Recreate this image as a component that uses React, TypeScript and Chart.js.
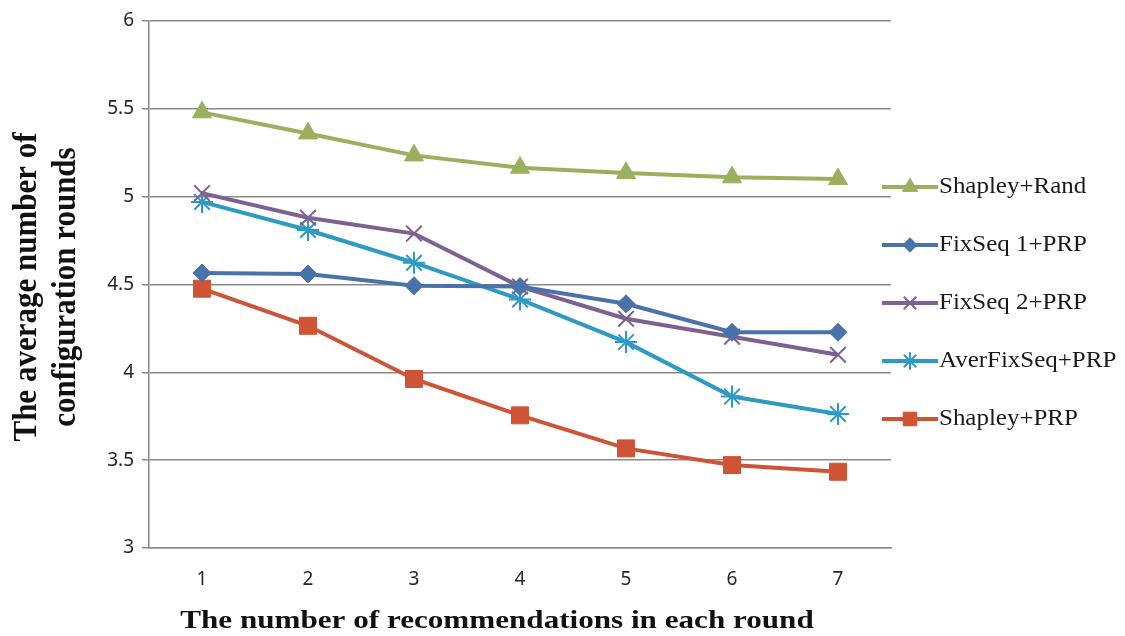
import React, { useEffect, useRef } from 'react';
import { Chart, registerables } from 'chart.js';
import * as helpers from 'chart.js/helpers';

Chart.register(...registerables);

const categories = ['1', '2', '3', '4', '5', '6', '7'];
const shapleyRand = [5.48, 5.36, 5.235, 5.165, 5.135, 5.11, 5.10];
const fixSeq1 = [4.565, 4.56, 4.493, 4.488, 4.39, 4.228, 4.228];
const fixSeq2 = [5.02, 4.88, 4.79, 4.488, 4.305, 4.203, 4.10];
const averFixSeq = [4.97, 4.81, 4.624, 4.415, 4.172, 3.862, 3.763];
const shapleyPRP = [4.476, 4.265, 3.962, 3.755, 3.567, 3.472, 3.434];
const seriesNames = ['Shapley+Rand', 'FixSeq 1+PRP', 'FixSeq 2+PRP', 'AverFixSeq+PRP', 'Shapley+PRP'];
const yMin = 3;
const yMax = 6;
const yStep = 0.5;
const xTitle = 'The number of recommendations in each round';
const yTitle = ['The average number of', 'configuration rounds'];

const GRID = '#8e8a88';

const decorPlugin = {
  id: 'decor',
  afterDraw(chart: any) {
    const ctx = chart.ctx;
    ctx.save();
    // x title
    ctx.fillStyle = '#111';
    ctx.font = 'bold 25px "Liberation Serif"';
    ctx.textAlign = 'center';
    ctx.textBaseline = 'alphabetic';
    ctx.save();
    ctx.translate(497, 628);
    ctx.scale(1.245, 1);
    ctx.fillText(xTitle, 0, 0);
    ctx.restore();
    // y title
    ctx.font = 'bold 31px "Liberation Serif"';
    const baselines = [36, 75];
    yTitle.forEach((line, i) => {
      ctx.save();
      ctx.translate(baselines[i], 287);
      ctx.rotate(-Math.PI / 2);
      ctx.scale(1, 1.1);
      ctx.fillText(line, 0, 0);
      ctx.restore();
    });
    // legend
    const ds = chart.data.datasets;
    ds.forEach((d: any, i: number) => {
      const y = 187 + i * 58;
      ctx.strokeStyle = d.borderColor;
      ctx.lineWidth = 4;
      ctx.beginPath();
      ctx.moveTo(882, y);
      ctx.lineTo(938, y);
      ctx.stroke();
      ctx.fillStyle = d.pointBackgroundColor;
      ctx.strokeStyle = d.pointBorderColor;
      ctx.lineWidth = d.pointBorderWidth;
      helpers.drawPoint(ctx, { pointStyle: d.pointStyle, rotation: 0, borderWidth: d.pointBorderWidth, radius: d.pointRadius * 0.8 }, 910, y);
      ctx.fillStyle = '#1a1a1a';
      ctx.font = '24px "Liberation Serif"';
      ctx.textAlign = 'left';
      ctx.textBaseline = 'middle';
      ctx.save();
      ctx.translate(939, y);
      ctx.scale(1.04, 1);
      ctx.fillText(d.label, 0, 0);
      ctx.restore();
    });
    ctx.restore();
  },
};

const bgPlugin = {
  id: 'bg',
  beforeDraw(chart: any) {
    const ctx = chart.ctx;
    ctx.save();
    ctx.fillStyle = '#fff';
    ctx.fillRect(0, 0, chart.width, chart.height);
    ctx.restore();
  },
};

export default function App() {
  const ref = useRef<HTMLCanvasElement>(null);
  useEffect(() => {
    if (!ref.current) return;
    const mk = (label: string, data: number[], color: string, style: string, radius: number, bw: number, fill: string) => ({
      label,
      data,
      borderColor: color,
      backgroundColor: color,
      borderWidth: 4,
      pointStyle: style,
      pointRadius: radius,
      pointHoverRadius: radius,
      pointBackgroundColor: fill,
      pointBorderColor: color,
      pointBorderWidth: bw,
      tension: 0,
    });
    const chart = new Chart(ref.current, {
      type: 'line',
      data: {
        labels: categories,
        datasets: [
          mk(seriesNames[0], shapleyRand, '#9CAF5E', 'triangle', 11, 1, '#9CAF5E'),
          mk(seriesNames[1], fixSeq1, '#4A72AA', 'rectRot', 9, 1, '#4A72AA'),
          mk(seriesNames[2], fixSeq2, '#7E6190', 'crossRot', 11, 2, '#7E6190'),
          mk(seriesNames[3], averFixSeq, '#2D9AC4', 'star', 11, 2, '#2D9AC4'),
          mk(seriesNames[4], shapleyPRP, '#CF5335', 'rect', 12, 1, '#CF5335'),
        ],
      },
      options: {
        responsive: false,
        animation: false,
        devicePixelRatio: 1,
        layout: { padding: { left: 0, right: 234, top: 21, bottom: 0 } },
        plugins: {
          legend: { display: false },
          tooltip: { enabled: false },
          title: { display: false },
        },
        scales: {
          x: {
            type: 'category',
            offset: true,
            grid: { display: false, drawTicks: false },
            border: { display: true, color: GRID, width: 1.5 },
            ticks: { color: '#262626', font: { family: '"Noto Sans"', size: 19 }, padding: 20 },
            afterFit: (s: any) => { s.height = 88; },
          },
          y: {
            min: yMin,
            max: yMax,
            grid: { color: GRID, lineWidth: 1.5, drawTicks: true, tickLength: 7 },
            border: { display: true, color: GRID, width: 1.5 },
            ticks: {
              stepSize: yStep,
              color: '#262626',
              font: { family: '"Noto Sans"', size: 19 },
              padding: 8,
              callback: (v: any) => String(Number(v)),
            },
            afterFit: (s: any) => { s.width = 149; },
          },
        },
      },
      plugins: [bgPlugin, decorPlugin],
    } as any);
    return () => chart.destroy();
  }, []);
  return (
    <div style={{ position: 'fixed', left: 0, top: 0, width: 1125, height: 636, background: '#fff' }}>
      <canvas ref={ref} width={1125} height={636} style={{ display: 'block' }} />
    </div>
  );
}
